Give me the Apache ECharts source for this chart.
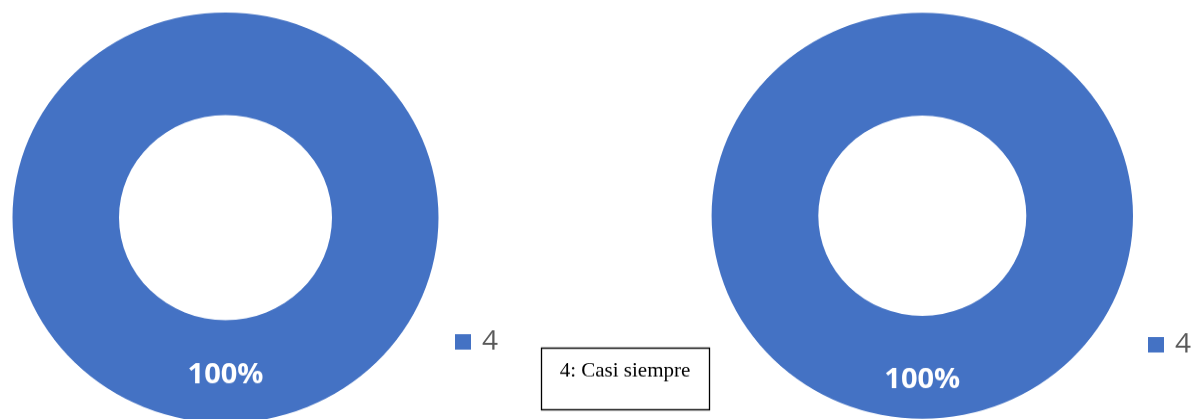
<!DOCTYPE html>
<html>
<head>
<meta charset="utf-8">
<script src="https://cdn.jsdelivr.net/npm/echarts@6/dist/echarts.min.js"></script>
<style>
  html, body { margin: 0; padding: 0; background: #ffffff; overflow: hidden; }
  #wrap { width: 1196px; height: 419px; overflow: hidden; }
  /* the drawing is slightly compressed vertically */
  #chart { width: 1196px; height: 435px; transform: scaleY(0.963); transform-origin: 0 0; }
</style>
</head>
<body>
<div id="wrap"><div id="chart"></div></div>
<script>
// Response categories and their counts for each of the two rings
const categories = ['4'];
const leftValues = [1];
const rightValues = [1];
const noteText = '4: Casi siempre';
const ringColor = '#4472C4';

const chart = echarts.init(document.getElementById('chart'), null, { renderer: 'canvas' });

function ringData(values) {
  return categories.map((name, i) => ({ name: name, value: values[i] }));
}

const labelStyle = {
  show: true,
  position: 'inside',
  formatter: '{d}%',
  color: '#ffffff',
  fontSize: 29,
  fontWeight: 'bold',
  fontFamily: 'Open Sans, Noto Sans, sans-serif'
};

const legendText = { fontSize: 28, color: '#595959', fontFamily: 'Open Sans, Noto Sans, sans-serif', padding: [0, 0, 0, 6] };

chart.setOption({
  animation: false,
  color: [ringColor],
  legend: [
    {
      data: categories,
      left: 450, top: 336,
      icon: 'rect', itemWidth: 16, itemHeight: 16,
      textStyle: legendText,
      selectedMode: false
    },
    {
      data: categories,
      left: 1143, top: 339,
      icon: 'rect', itemWidth: 16, itemHeight: 16,
      textStyle: legendText,
      selectedMode: false
    }
  ],
  series: [
    {
      type: 'pie',
      center: [225.5, 226],
      radius: [106.5, 213],
      startAngle: 90,
      silent: true,
      label: Object.assign({}, labelStyle, { offset: [0, 1] }),
      labelLine: { show: false },
      itemStyle: { color: ringColor, borderWidth: 0 },
      data: ringData(leftValues)
    },
    {
      type: 'pie',
      center: [922.3, 224],
      radius: [104, 210.7],
      startAngle: 90,
      silent: true,
      label: Object.assign({}, labelStyle, { offset: [0, 10] }),
      labelLine: { show: false },
      itemStyle: { color: ringColor, borderWidth: 0 },
      data: ringData(rightValues)
    }
  ],
  graphic: [
    {
      type: 'rect',
      shape: { x: 541.5, y: 361.5, width: 168, height: 64 },
      style: { fill: '#ffffff', stroke: '#000000', lineWidth: 1.3 }
    },
    {
      type: 'text',
      x: 625, y: 385,
      style: {
        text: noteText,
        fill: '#000000',
        font: '21px "Liberation Serif", "DejaVu Serif", serif',
        align: 'center',
        verticalAlign: 'middle'
      }
    }
  ]
});
</script>
</body>
</html>
